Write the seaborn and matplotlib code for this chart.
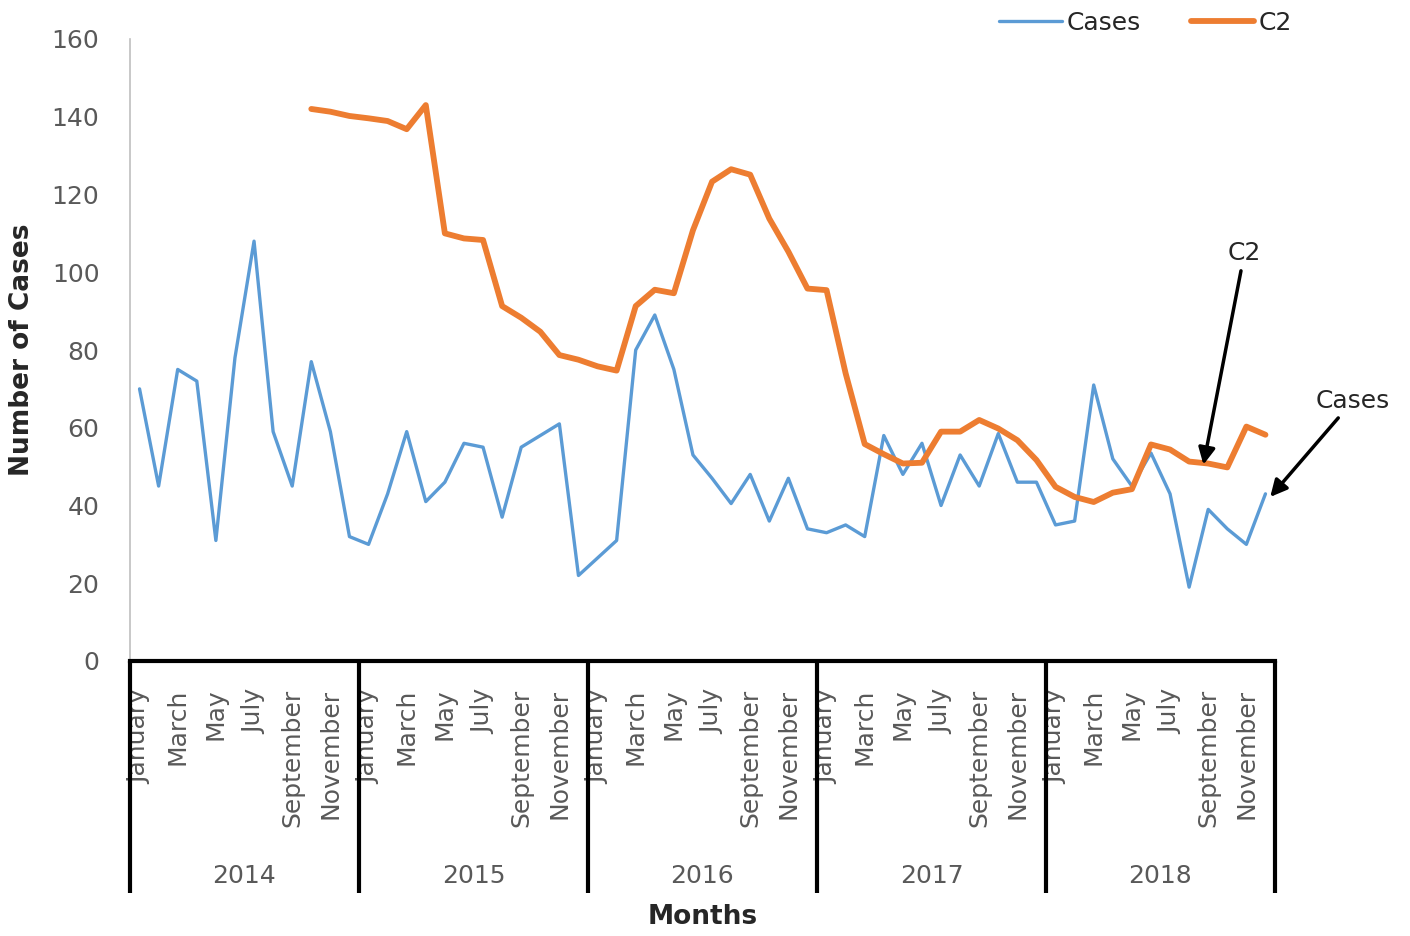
import numpy as np
import pandas as pd
import matplotlib
matplotlib.use('Agg')
import matplotlib.pyplot as plt
import seaborn as sns

# data (monthly, Jan 2014 .. Dec 2018)
years = [2014, 2015, 2016, 2017, 2018]
month_names = ['January', 'February', 'March', 'April', 'May', 'June',
               'July', 'August', 'September', 'October', 'November', 'December']
shown_months = ['January', 'March', 'May', 'July', 'September', 'November']

cases = [70, 45, 75, 72, 31, 78, 108, 59, 45, 77, 59, 32,
         30, 43, 59, 41, 46, 56, 55, 37, 55, 58, 61, 22,
         26.5, 31, 80, 89, 75, 53, 47, 40.5, 48, 36, 47, 34,
         33, 35, 32, 58, 48, 56, 40, 53, 45, 58.5, 46, 46,
         35, 36, 71, 52, 45, 53.5, 43, 19, 39, 34, 30, 43]

c2 = [np.nan] * 9 + [142, 141.3, 140.2,
      139.6, 138.9, 136.8, 143, 110, 108.7, 108.3, 91.3, 88.3, 84.7, 78.7, 77.5,
      75.8, 74.7, 91.3, 95.5, 94.6, 110.8, 123.3, 126.5, 125.1, 113.8, 105.3, 95.8,
      95.4, 74, 55.8, 53.2, 50.8, 51, 59, 59, 62, 59.8, 56.8, 51.7,
      44.8, 42.2, 40.9, 43.3, 44.2, 55.7, 54.4, 51.3, 50.8, 49.8, 60.3, 58.2]

y_ticks = [0, 20, 40, 60, 80, 100, 120, 140, 160]

BLUE = '#5B9BD5'
ORANGE = '#ED7D31'
GRAY = '#595959'

sns.set_style('white')
plt.rcParams['font.family'] = ['DejaVu Sans']

df = pd.DataFrame({'month': range(len(cases)), 'Cases': cases, 'C2': c2})

fig = plt.figure(figsize=(14.1, 9.36), dpi=100)
ax = fig.add_axes([130 / 1410, 1 - 661 / 936, 1145 / 1410, 622 / 936])

sns.lineplot(data=df, x='month', y='Cases', color=BLUE, lw=2.4, label='Cases',
             estimator=None, ax=ax)
sns.lineplot(data=df, x='month', y='C2', color=ORANGE, lw=4.2, label='C2',
             estimator=None, solid_capstyle='round', ax=ax)

ax.set_xlim(-0.5, len(cases) - 0.5)
ax.set_ylim(0, 160)
ax.set_yticks(y_ticks)
ax.tick_params(axis='y', length=0, pad=22, labelsize=18, labelcolor=GRAY)

# month labels (every other month) under each year
tick_pos = [yi * 12 + month_names.index(m) for yi in range(len(years)) for m in shown_months]
tick_lab = [m for _ in years for m in shown_months]
ax.set_xticks(tick_pos)
ax.set_xticklabels(tick_lab, rotation=90, va='top', ha='center')
ax.tick_params(axis='x', length=0, pad=20, labelsize=18, labelcolor=GRAY)

for side in ['top', 'right']:
    ax.spines[side].set_visible(False)
ax.spines['left'].set_color('#BFBFBF')
ax.spines['left'].set_linewidth(1.2)
ax.spines['bottom'].set_color('black')
ax.spines['bottom'].set_linewidth(3)

# year group separators and year labels
trans = ax.get_xaxis_transform()
for b in range(len(years) + 1):
    xb = b * 12 - 0.5
    ax.plot([xb, xb], [0, -0.373], transform=trans, color='black', lw=3,
            clip_on=False, solid_capstyle='butt')
for yi, yr in enumerate(years):
    ax.text(yi * 12 + 5.5, -0.3457, str(yr), transform=trans, ha='center',
            va='center', color=GRAY, fontsize=18)

ax.set_xlabel('Months', fontsize=19, fontweight='bold')
ax.xaxis.set_label_coords(0.5, -0.39)
ax.set_ylabel('Number of Cases', fontsize=19, fontweight='bold')
ax.yaxis.set_label_coords(-0.083, 0.5)

ax.legend(loc='upper right', bbox_to_anchor=(1292 / 1410, 1 - 11 / 936),
          bbox_transform=fig.transFigure, ncol=2, frameon=False, fontsize=18,
          handlelength=2.5, handletextpad=0.2, columnspacing=2.0,
          borderpad=0, borderaxespad=0)

# callouts
arrow = dict(arrowstyle='-|>', color='black', lw=2.5, mutation_scale=25,
             shrinkA=2, shrinkB=0)
ax.annotate('C2', xy=(55.75, 50.5), xytext=(57.9, 105), ha='center', va='center',
            fontsize=18, arrowprops=arrow, annotation_clip=False)
ax.annotate('Cases', xy=(59.25, 42.2), xytext=(63.6, 67), ha='center', va='center',
            fontsize=18, arrowprops=arrow, annotation_clip=False)

fig.savefig('out.png', dpi=100)
